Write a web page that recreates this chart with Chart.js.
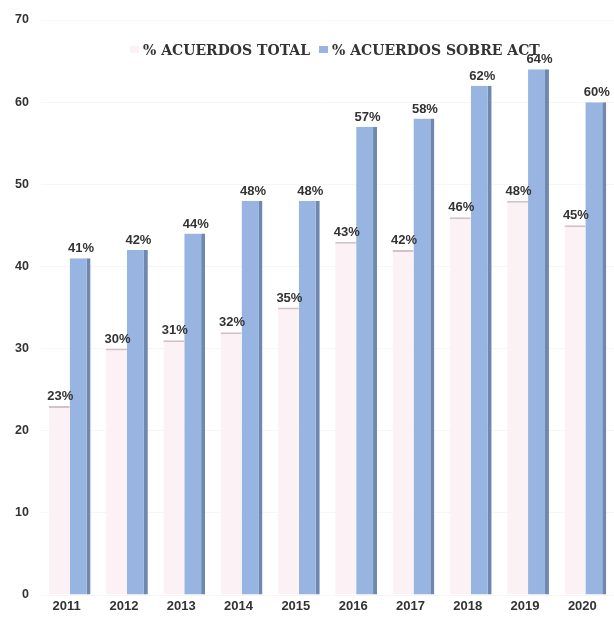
<!DOCTYPE html>
<html>
<head>
<meta charset="utf-8">
<script src="https://cdn.jsdelivr.net/npm/chart.js@4.4.1/dist/chart.umd.min.js"></script>
<style>
    html, body { margin: 0; padding: 0; background: #ffffff; }
    #wrap { width: 614px; height: 617px; }
</style>
</head>
<body>
<div id="wrap"><canvas id="barChart" width="614" height="617"></canvas></div>
<script>
// ===============================
// Data
// ===============================

const years = ["2011", "2012", "2013", "2014", "2015", "2016", "2017", "2018", "2019", "2020"];

const acuerdosTotal = [23, 30, 31, 32, 35, 43, 42, 46, 48, 45];

const acuerdosSobreAct = [41, 42, 44, 48, 48, 57, 58, 62, 64, 60];

const yTicks = [0, 10, 20, 30, 40, 50, 60, 70];

const pinkColor = "#fcf1f4";
const blueColor = "#98b5e2";

// ===============================
// Value labels above bars
// ===============================

const valueLabels = {
    id: "valueLabels",
    afterDatasetsDraw(chart) {
        const ctx = chart.ctx;
        ctx.save();
        ctx.font = "bold 13px 'Liberation Sans', Arial, sans-serif";
        ctx.fillStyle = "#333333";
        ctx.textAlign = "center";
        ctx.textBaseline = "alphabetic";
        chart.data.datasets.forEach(function(ds, i){
            chart.getDatasetMeta(i).data.forEach(function(bar, j){
                ctx.fillText(ds.data[j] + "%", bar.x + 1, bar.y - 6);
            });
        });
        ctx.restore();
    }
};

// ===============================
// Legend drawn inside the plot
// ===============================

const topLegend = {
    id: "topLegend",
    afterDraw(chart) {
        const ctx = chart.ctx;
        const sets = chart.data.datasets;
        ctx.save();
        ctx.font = "bold 14px 'DejaVu Serif', 'Liberation Serif', serif";
        ctx.textBaseline = "alphabetic";
        ctx.textAlign = "left";

        let x = 143;
        const baseY = 55;

        sets.forEach(function(ds, i){
            // legend box
            ctx.fillStyle = ds.backgroundColor;
            ctx.fillRect(x - 13, baseY - 9, 9, 7);
            // legend text
            ctx.fillStyle = "#333333";
            ctx.fillText(ds.label, x, baseY);
            x += ctx.measureText(ds.label).width + 22;
        });

        ctx.restore();
    }
};

// ===============================
// Bar Chart
// ===============================

new Chart(document.getElementById("barChart"), {
    type: "bar",
    data: {
        labels: years,
        datasets: [
            {
                label: "% ACUERDOS TOTAL",
                data: acuerdosTotal,
                backgroundColor: pinkColor,
                borderColor: "#d3c1c6",
                borderWidth: { top: 2, right: 0, bottom: 0, left: 0 },
                borderSkipped: false
            },
            {
                label: "% ACUERDOS SOBRE ACT",
                data: acuerdosSobreAct,
                backgroundColor: blueColor,
                borderColor: "#6f88b0",
                borderWidth: { top: 0, right: 4, bottom: 0, left: 0 },
                borderSkipped: false
            }
        ]
    },
    options: {
        responsive: false,
        animation: false,
        layout: { padding: { top: 20, right: 0, bottom: 0, left: 0 } },
        datasets: {
            bar: { categoryPercentage: 0.73, barPercentage: 1 }
        },
        plugins: {
            legend: { display: false },
            tooltip: { enabled: false }
        },
        scales: {
            x: {
                grid: { display: false, drawTicks: false },
                border: { display: false },
                ticks: {
                    color: "#333333",
                    padding: 4,
                    labelOffset: -3,
                    font: { family: "'Liberation Sans', Arial, sans-serif", size: 13, weight: "bold" }
                },
                afterFit: function(axis){ axis.height = 22; }
            },
            y: {
                min: 0,
                max: 70,
                afterBuildTicks: function(axis){
                    axis.ticks = yTicks.map(function(v){ return { value: v }; });
                },
                grid: { color: "rgba(0,0,0,0.035)", drawTicks: false },
                border: { display: false },
                ticks: {
                    color: "#333333",
                    padding: 12,
                    font: { family: "'Liberation Sans', Arial, sans-serif", size: 12.5, weight: "bold" }
                },
                afterFit: function(axis){ axis.width = 41; }
            }
        }
    },
    plugins: [valueLabels, topLegend]
});
</script>
</body>
</html>
